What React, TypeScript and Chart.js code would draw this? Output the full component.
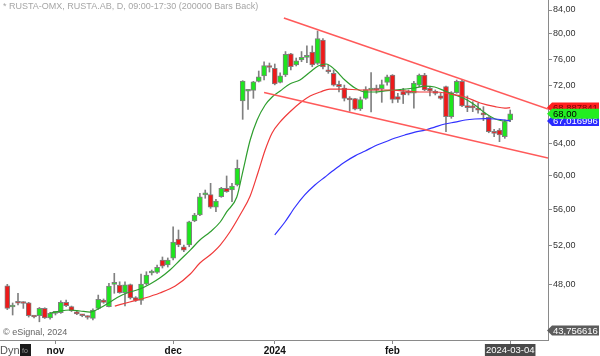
import React, { useEffect, useRef } from "react";
import { Chart, registerables } from "chart.js";

Chart.register(...registerables);

const FONT = "'Liberation Sans', Arial, sans-serif";

// Daily candles (index 0 = first session)
const opens = [47.92,45.89,46.25,46.24,46.29,44.99,45.08,45.76,44.89,45.30,
45.36,46.33,45.92,45.45,45.10,44.94,44.84,45.76,46.55,45.92,
48.05,47.99,47.24,48.04,46.77,46.50,48.09,49.18,49.25,50.50,
49.99,50.68,52.70,51.88,52.06,54.67,55.34,57.65,57.68,56.22,
57.44,58.43,58.23,58.83,69.80,71.20,71.33,72.65,73.45,75.01,
74.59,72.50,73.59,76.82,75.11,75.87,76.27,77.09,75.33,79.03,
74.34,73.84,72.20,71.67,70.18,70.15,68.67,70.18,71.36,71.40,
71.59,72.48,73.59,70.42,71.14,71.14,70.91,72.10,73.59,71.62,
70.93,70.52,71.86,67.61,70.99,72.65,69.13,68.87,68.55,68.08,
67.52,65.56,65.79,64.91,67.15];
const highs = [48.06,46.27,47.19,46.39,46.33,45.08,45.85,45.82,45.39,45.45,
46.48,46.55,45.98,45.52,45.21,45.08,45.71,47.02,46.65,48.16,
49.15,48.31,48.31,48.09,46.87,49.08,49.31,49.48,49.99,50.81,
50.71,54.04,53.68,52.06,54.65,55.53,57.84,58.23,59.03,57.14,
58.55,59.92,59.03,61.90,72.75,71.40,72.65,74.19,75.60,75.41,
75.26,73.91,77.19,76.93,76.18,77.19,78.08,78.08,80.49,79.27,
75.11,74.34,72.70,72.10,70.42,70.18,70.36,71.86,73.96,72.10,
72.84,73.59,73.65,70.91,71.62,71.38,72.65,73.74,73.84,71.86,
71.38,70.91,71.95,71.14,72.84,72.84,70.52,69.70,69.47,69.00,
67.61,65.88,66.00,67.15,68.53];
const lows = [45.65,45.15,46.08,45.76,44.96,44.89,44.53,44.83,44.77,45.15,
45.30,45.92,45.47,45.19,44.99,44.77,44.69,45.67,46.24,45.89,
47.19,47.19,46.00,46.64,46.41,46.14,47.99,48.98,49.15,49.68,
49.78,50.50,51.88,51.36,51.88,54.59,55.27,57.26,56.10,55.72,
57.37,57.96,56.86,58.71,67.24,68.60,70.18,72.55,72.84,74.04,
72.13,72.42,73.36,74.34,74.96,75.61,75.46,74.84,75.18,74.49,
73.84,71.95,71.10,69.80,68.36,68.53,68.46,70.04,68.25,70.91,
69.61,72.10,69.53,69.61,69.44,70.66,68.77,71.86,71.28,70.52,
70.66,70.04,65.56,67.38,70.91,69.00,68.30,68.30,68.08,67.06,
65.43,64.91,64.25,64.69,66.92];
const closes = [45.76,45.98,46.24,46.22,45.08,44.97,45.76,44.89,45.30,45.32,
46.33,46.01,45.55,45.24,45.08,44.92,45.61,46.62,46.33,47.89,
48.12,47.24,48.02,46.74,46.50,48.09,48.98,49.22,49.76,49.88,
50.50,52.38,52.06,51.53,54.59,55.34,57.44,57.68,56.22,56.94,
58.43,58.03,58.71,60.86,72.69,71.28,72.59,73.33,75.01,74.73,
72.25,73.45,76.77,74.84,75.76,76.29,76.30,75.11,79.27,74.80,
74.08,72.10,71.86,70.18,69.94,68.63,70.01,71.45,71.40,71.36,
72.17,73.33,70.04,70.04,70.66,70.91,72.40,73.59,71.38,71.24,
70.90,70.18,67.61,70.99,72.65,69.09,68.86,68.83,68.51,67.85,
65.56,65.35,65.13,66.92,68.00];

// Moving averages: [candle index, value]
const fastMA: [number, number][] = [
  [8.0,45.33],[9.9,45.52],[11.7,45.61],[13.6,45.52],[15.5,45.42],[17.3,45.79],[19.2,46.36],
  [21.1,46.93],[22.9,47.31],[24.8,47.60],[26.7,48.09],[28.5,48.68],[30.4,49.48],[32.3,50.50],
  [34.2,51.53],[36.0,52.59],[37.9,53.46],[39.8,54.56],[41.0,55.70],[42.9,57.40],[44.0,60.40],
  [45.4,64.47],[46.7,67.15],[48.2,69.23],[49.5,70.37],[51.0,71.24],[52.8,72.27],[54.7,72.84],
  [56.6,74.04],[58.1,74.96],[59.6,75.26],[61.3,74.34],[63.1,72.84],[65.0,71.67],[66.9,71.09],
  [68.7,71.09],[70.6,71.24],[72.5,71.38],[74.3,71.52],[76.2,71.67],[78.1,71.95],[79.9,71.81],
  [81.8,71.24],[83.7,70.66],[85.6,70.08],[87.4,69.23],[89.3,68.11],[91.2,67.29],[93.0,67.01],
  [94.0,67.15]];
const slowMA: [number, number][] = [
  [20.1,45.98],[22.9,46.36],[25.7,46.74],[28.5,47.22],[31.4,47.89],[34.2,49.08],[36.0,50.19],
  [37.9,51.01],[39.8,52.06],[41.6,53.46],[43.5,55.34],[45.4,57.53],[46.9,60.41],[48.2,63.17],
  [49.5,65.40],[51.0,66.88],[52.8,68.25],[54.7,69.52],[56.6,70.52],[58.5,71.09],[60.3,71.52],
  [63.1,71.52],[65.9,71.38],[68.7,71.38],[71.5,71.38],[74.3,71.24],[77.1,71.09],[79.9,71.09],
  [82.8,70.80],[85.6,70.37],[88.4,69.52],[91.2,69.00],[93.0,68.80],[94.0,68.85]];
const longMA: [number, number][] = [
  [50.0,53.14],[51.9,54.56],[53.8,56.25],[55.6,57.65],[57.5,58.83],[59.4,59.80],[61.3,60.77],
  [63.1,61.65],[65.0,62.42],[66.9,63.04],[68.7,63.69],[70.6,64.21],[72.5,64.73],[74.3,65.13],
  [76.2,65.52],[78.1,65.79],[79.9,66.19],[81.8,66.60],[83.7,66.87],[85.6,67.15],[87.4,67.29],
  [89.3,67.35],[91.2,67.29],[93.0,67.15],[94.0,67.02]];
const upperTrend: [number, number][] = [[51.7, 82.65], [101.07, 68.67]];
const lowerTrend: [number, number][] = [[48.0, 71.02], [101.07, 62.15]];

const priceTicks = [48, 52, 56, 60, 64, 72, 76, 80, 84];
const dateTickIdx = [9, 31, 50, 72, 94];
const dateTickLabels = ["nov", "dec", "2024", "feb", "2024-03-04"];

const lastPrice = 68.0;
const slowMALabel = 68.887841;
const longMALabel = 67.016996;
const lowMarker = 43.756616;

const Y_MIN = 42.91;
const Y_MAX = 85.73;
const X_MIN = -1.364;
const X_MAX = 101.07;

const UP = "#1ee61e";
const DOWN = "#ee1a1a";
const EDGE = "#808080";

const fmt = (v: number, d: number) => v.toFixed(d).replace(".", ",");

const decorPlugin = {
  id: "decor",
  afterDraw(chart: any) {
    const ctx = chart.ctx as CanvasRenderingContext2D;
    const ys = chart.scales.y;
    ctx.save();
    ctx.textAlign = "left";
    ctx.textBaseline = "top";
    ctx.font = `9px ${FONT}`;
    ctx.fillStyle = "#a6a6a6";
    ctx.fillText("* RUSTA-OMX, RUSTA.AB, D, 09:00-17:30 (200000 Bars Back)", 3, 2);
    ctx.fillStyle = "#666";
    ctx.fillText("\u00a9 eSignal, 2024", 3, 328);
    ctx.font = `11px ${FONT}`;
    ctx.fillStyle = "#555";
    ctx.fillText("Dyn", 0, 345);
    ctx.fillStyle = "#1b1b1b";
    ctx.fillRect(20, 344, 11, 12);
    ctx.font = `7px ${FONT}`;
    ctx.fillStyle = "#9a9a9a";
    ctx.fillText("fo", 22, 348);

    const box = (val: number, bg: string, fg: string, label: string) => {
      const py = ys.getPixelForValue(val);
      const h = 10;
      const x0 = 547;
      ctx.beginPath();
      ctx.moveTo(x0, py);
      ctx.lineTo(x0 + 5, py - h / 2);
      ctx.lineTo(599, py - h / 2);
      ctx.lineTo(599, py + h / 2);
      ctx.lineTo(x0 + 5, py + h / 2);
      ctx.closePath();
      ctx.fillStyle = bg;
      ctx.fill();
      ctx.font = `9.5px ${FONT}`;
      ctx.fillStyle = fg;
      ctx.textBaseline = "middle";
      ctx.fillText(label, 553, py + 0.5);
    };
    box(slowMALabel, "#ff2020", "#7a0000", fmt(slowMALabel, 6));
    box(longMALabel, "#2a2aff", "#ffffff", fmt(longMALabel, 6));
    box(lastPrice, "#22ee22", "#000000", fmt(lastPrice, 2));
    box(lowMarker, "#5c5c5c", "#ffffff", fmt(lowMarker, 6));
    ctx.restore();
  },
};

export default function App() {
  const ref = useRef<HTMLCanvasElement>(null);
  useEffect(() => {
    const canvas = ref.current!;
    const idx = opens.map((_, i) => i);
    const wickData = idx.map((i) => ({ x: i, y: [lows[i], highs[i]] }));
    const bodyData = idx.map((i) => ({ x: i, y: [opens[i], closes[i]] }));
    const bodyColors = idx.map((i) => (closes[i] >= opens[i] ? UP : DOWN));
    const pts = (a: [number, number][]) => a.map(([x, y]) => ({ x, y }));
    const lineDs = (data: [number, number][], color: string, width: number, order: number) => ({
      type: "line" as const,
      data: pts(data),
      borderColor: color,
      borderWidth: width,
      pointRadius: 0,
      cubicInterpolationMode: "monotone" as const,
      order,
    });

    const chart = new Chart(canvas, {
      type: "bar",
      data: {
        datasets: [
          lineDs(upperTrend, "#ff5a5a", 1.6, 0),
          lineDs(lowerTrend, "#ff5a5a", 1.6, 0),
          lineDs(longMA, "#3232ff", 1.2, 0),
          lineDs(slowMA, "#f03a3a", 1.2, 0),
          lineDs(fastMA, "#2e9e2e", 1.2, 0),
          {
            type: "bar",
            data: bodyData as any,
            backgroundColor: bodyColors,
            borderColor: EDGE,
            borderWidth: 1,
            borderSkipped: false,
            barThickness: 5,
            grouped: false,
            minBarLength: 2,
            order: 1,
          } as any,
          {
            type: "bar",
            data: wickData as any,
            backgroundColor: EDGE,
            barThickness: 1,
            grouped: false,
            order: 2,
          } as any,
        ],
      },
      options: {
        animation: false,
        responsive: false,
        devicePixelRatio: 1,
        layout: { padding: 0, autoPadding: false } as any,
        font: { family: FONT },
        plugins: { legend: { display: false }, tooltip: { enabled: false } },
        scales: {
          x: {
            type: "linear",
            min: X_MIN,
            max: X_MAX,
            offset: false,
            position: "bottom",
            afterBuildTicks: (s: any) => {
              s.ticks = dateTickIdx.map((v) => ({ value: v }));
            },
            afterFit: (s: any) => {
              s.height = 16;
              s.paddingLeft = 0;
              s.paddingRight = 0;
            },
            grid: { display: true, drawOnChartArea: false, drawTicks: true, tickLength: 4, color: "#8a8a8a", offset: false },
            border: { display: true, color: "#8a8a8a" },
            ticks: {
              autoSkip: false,
              maxRotation: 0,
              padding: 1,
              callback: (v: any) => {
                const k = dateTickIdx.indexOf(Number(v));
                return k >= 0 ? dateTickLabels[k] : "";
              },
              font: (c: any) =>
                c.index === 4
                  ? { family: FONT, size: 9.5, weight: "normal" }
                  : { family: FONT, size: 10, weight: "bold" },
              color: (c: any) => (c.index === 4 ? "#ffffff" : "#111111"),
              showLabelBackdrop: (c: any) => c.index === 4,
              backdropColor: "#4a4a4a",
              backdropPadding: { top: 1, bottom: 1, left: 1, right: 1 },
            } as any,
          },
          y: {
            type: "logarithmic",
            position: "right",
            min: Y_MIN,
            max: Y_MAX,
            afterBuildTicks: (s: any) => {
              s.ticks = priceTicks.map((v) => ({ value: v }));
            },
            afterFit: (s: any) => {
              s.width = 52;
              s.paddingTop = 0;
              s.paddingBottom = 0;
            },
            grid: { drawOnChartArea: false, tickLength: 4, color: "#8a8a8a" },
            border: { display: true, color: "#8a8a8a" },
            ticks: {
              autoSkip: false,
              padding: 1,
              color: "#333333",
              font: { family: FONT, size: 9 },
              callback: (v: any) => fmt(Number(v), 2),
            },
          },
        },
      },
      plugins: [decorPlugin],
    } as any);
    return () => chart.destroy();
  }, []);

  return (
    <div style={{ position: "fixed", left: 0, top: 0, width: 600, height: 356, background: "#fff" }}>
      <canvas ref={ref} width={600} height={356} style={{ display: "block" }} />
    </div>
  );
}
